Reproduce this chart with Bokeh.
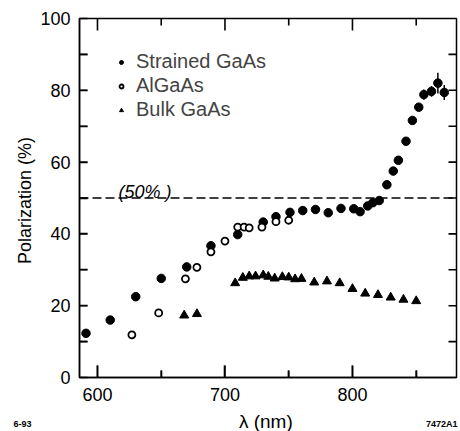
from bokeh.plotting import figure
from bokeh.models import (FixedTicker, Label, Legend, LegendItem, Span)
from bokeh.embed import file_html
from bokeh.resources import INLINE

# ---- data ----
strained_x = [591, 610, 630, 650, 670, 689, 710, 730, 740, 751, 761, 771, 781, 791, 801,
              806, 812, 816, 821, 827, 832, 836, 842, 847, 852, 856, 862, 867, 872]
strained_y = [12.3, 16.0, 22.5, 27.6, 30.8, 36.7, 39.8, 43.3, 44.8, 46.0, 46.5, 46.8, 45.9, 47.1, 47.0,
              46.2, 47.8, 48.7, 49.3, 53.7, 57.5, 60.5, 65.8, 71.6, 75.3, 78.8, 79.7, 82.0, 79.4]
err_x = [856, 862, 867, 872]
err_y = [78.8, 79.7, 82.0, 79.4]
err_size = [1.4, 1.5, 2.9, 2.1]

algaas_x = [627, 648, 669, 678, 689, 700, 710, 715, 719, 729, 740, 750]
algaas_y = [11.9, 18.0, 27.5, 30.7, 35.0, 38.0, 41.9, 41.9, 41.7, 41.9, 43.4, 43.8]

bulk_x = [668, 678, 708, 714, 719, 724, 730, 734, 739, 745, 750, 755, 760, 770, 780, 790,
          800, 810, 820, 830, 840, 850]
bulk_y = [17.3, 17.7, 26.3, 27.8, 28.2, 28.2, 28.5, 28.1, 27.6, 28.0, 27.9, 27.4, 27.5, 26.5, 26.8, 26.3,
          24.7, 23.4, 23.0, 22.3, 21.7, 21.3]

reference_level = 50
series_names = ["Strained GaAs", "AlGaAs", "Bulk GaAs"]
y_ticks = [0, 20, 40, 60, 80, 100]
y_minor = [10, 30, 50, 70, 90]
y_inner_ticks = [10, 20, 30, 40, 50, 60, 70, 80, 90]
x_ticks = [600, 700, 800]
x_minor = [650, 750, 850]

X_LO, X_HI = 585.9, 881.6
Y_LO, Y_HI = 0, 100
FONT = "Liberation Sans"

FRAME_W, FRAME_H = 377, 359          # frame size in pixels
PX_X = FRAME_W / (X_HI - X_LO)       # pixels per nm
PX_Y = FRAME_H / (Y_HI - Y_LO)       # pixels per %

p = figure(width=460, height=408, x_range=(X_LO, X_HI), y_range=(Y_LO, Y_HI),
           output_backend="svg", toolbar_location=None,
           min_border_left=79, min_border_right=4, min_border_top=18, min_border_bottom=31)
p.grid.visible = False
p.outline_line_color = "black"
p.outline_line_width = 1.5
p.background_fill_color = "white"
p.border_fill_color = "white"

for ax in (p.xaxis[0], p.yaxis[0]):
    ax.major_tick_out = 0
    ax.minor_tick_out = 0
    ax.axis_line_color = "black"
    ax.axis_line_width = 1.5
    ax.major_tick_line_color = "black"
    ax.minor_tick_line_color = "black"
    ax.major_tick_line_width = 1.6
    ax.minor_tick_line_width = 1.6
    ax.major_label_text_font = FONT
    ax.major_label_text_font_size = "18px"
    ax.major_label_text_color = "black"
    ax.axis_label_text_font = FONT
    ax.axis_label_text_font_size = "18px"
    ax.axis_label_text_font_style = "normal"
    ax.axis_label_text_color = "black"

xa = p.xaxis[0]
xa.ticker = FixedTicker(ticks=x_ticks, minor_ticks=x_minor)
xa.major_tick_in = 12
xa.minor_tick_in = 7
xa.major_label_standoff = 10

ya = p.yaxis[0]
ya.ticker = FixedTicker(ticks=y_ticks, minor_ticks=y_minor)
ya.major_tick_in = 8
ya.minor_tick_in = 8
ya.axis_label = "Polarization  (%)"
ya.major_label_standoff = 9
ya.axis_label_standoff = 2

# inward tick marks on all four sides, drawn as short segments from the frame edge
tick_line = dict(line_color="black", line_width=1.6)


def x_edge_ticks(xs, length_px):
    dy = length_px / PX_Y
    p.segment(x0=xs, x1=xs, y0=[Y_LO] * len(xs), y1=[Y_LO + dy] * len(xs), **tick_line)
    p.segment(x0=xs, x1=xs, y0=[Y_HI] * len(xs), y1=[Y_HI - dy] * len(xs), **tick_line)


def y_edge_ticks(ys, length_px):
    dx = length_px / PX_X
    p.segment(x0=[X_LO] * len(ys), x1=[X_LO + dx] * len(ys), y0=ys, y1=ys, **tick_line)
    p.segment(x0=[X_HI] * len(ys), x1=[X_HI - dx] * len(ys), y0=ys, y1=ys, **tick_line)


x_edge_ticks(x_ticks, 12)
x_edge_ticks(x_minor, 7)
y_edge_ticks(y_inner_ticks, 8)

# reference line
p.add_layout(Span(location=reference_level, dimension="width", line_color="black",
                  line_width=1.5, line_dash="9 4"))
p.add_layout(Label(x=616.5, y=51.6, text="(50% )", text_font=FONT, text_font_size="18px",
                   text_font_style="italic", text_color="black", text_baseline="alphabetic"))

# error bars
p.segment(x0=err_x, x1=err_x,
          y0=[v - e for v, e in zip(err_y, err_size)],
          y1=[v + e for v, e in zip(err_y, err_size)],
          line_color="black", line_width=1.5)

r_str = p.scatter(strained_x, strained_y, marker="circle", size=8.5,
                  fill_color="black", line_color="black")
r_al = p.scatter(algaas_x, algaas_y, marker="circle", size=7,
                 fill_color="white", line_color="black", line_width=1.8)
r_bulk = p.scatter(bulk_x, bulk_y, marker="triangle", size=9,
                   fill_color="black", line_color="black")

legend = Legend(items=[LegendItem(label=series_names[0], renderers=[r_str]),
                       LegendItem(label=series_names[1], renderers=[r_al]),
                       LegendItem(label=series_names[2], renderers=[r_bulk])],
                location=(37, 256), padding=0, margin=0, spacing=1,
                label_height=20, glyph_height=20, glyph_width=10, label_standoff=10,
                label_text_font=FONT, label_text_font_size="20px",
                border_line_color=None, background_fill_alpha=0)
p.add_layout(legend, "center")

# bottom strip: x-axis title and the corner annotations
p2 = figure(width=460, height=23, x_axis_type=None, y_axis_type=None,
            output_backend="svg", toolbar_location=None,
            min_border_left=0, min_border_right=0, min_border_top=0, min_border_bottom=0)
p2.outline_line_color = None
p2.grid.visible = False
p2.background_fill_color = "white"
p2.border_fill_color = "white"
p2.add_layout(Label(x=268, y=10, x_units="screen", y_units="screen", text="λ  (nm)",
                    text_align="center", text_baseline="alphabetic",
                    text_font=FONT, text_font_size="19px", text_color="black"))
p2.add_layout(Label(x=13, y=8, x_units="screen", y_units="screen", text="6-93",
                    text_baseline="alphabetic",
                    text_font=FONT, text_font_size="9px", text_font_style="bold",
                    text_color="black"))
p2.add_layout(Label(x=457, y=8, x_units="screen", y_units="screen", text="7472A1",
                    text_align="right", text_baseline="alphabetic",
                    text_font=FONT, text_font_size="9px", text_font_style="bold",
                    text_color="black"))

open("out.html", "w").write(file_html([p, p2], INLINE))
